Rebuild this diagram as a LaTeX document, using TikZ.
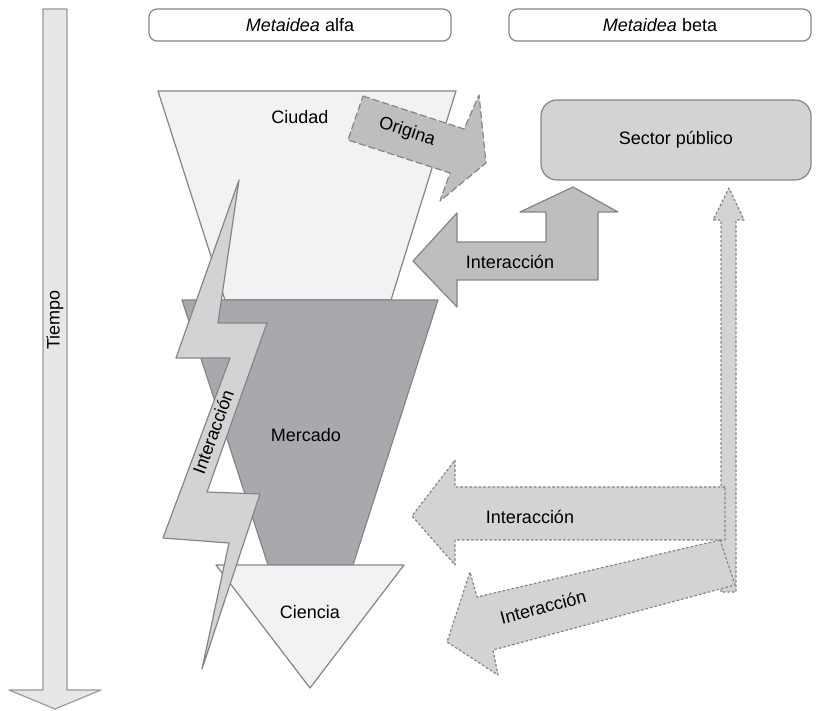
\documentclass[tikz,border=0pt]{standalone}
\usepackage{fontspec}
\setmainfont{Liberation Sans}
\definecolor{tiempo}{HTML}{E6E7E8}
\definecolor{ciudad}{HTML}{F1F2F3}
\definecolor{mercado}{HTML}{A7A9AC}
\definecolor{claro}{HTML}{D1D3D4}
\definecolor{medio}{HTML}{BCBEC0}
\definecolor{borde}{HTML}{858585}
\begin{document}
\begin{tikzpicture}[x=.5pt, y=-.5pt, font=\fontsize{9}{11}\selectfont, line join=round,
	edge/.style={draw=borde, line width=.6pt},
	dotedge/.style={draw=borde, line width=.6pt, dash pattern=on 1.3pt off 1pt},
	dashedge/.style={draw=borde, line width=.6pt, dash pattern=on 3.5pt off 1.5pt},
	topbox/.style={edge, fill=white, rounded corners=4pt, minimum width=151pt, minimum height=16pt, inner sep=0pt},
	lbl/.style={inner sep=0pt}]
	\useasboundingbox (0,0) rectangle (837,711);
	% eje del tiempo
	\draw[edge, draw=black!40, fill=tiempo] (43,9)--(67,9)--(67,690)--(101,690)--(55,709)--(9,690)--(43,690)--cycle;
	\node[lbl, rotate=90] (tiempo) at (55,320) {Tiempo};
	% cabeceras
	\node[topbox] (alfa) at (300,25) {\textit{Metaidea} alfa};
	\node[topbox] (beta) at (660,25) {\textit{Metaidea} beta};
	% embudo
	\draw[edge, fill=ciudad] (158,91)--(456,91)--(391,300)--(225,300)--cycle;
	\node[lbl] (ciudad) at (300,117) {Ciudad};
	\draw[dashedge, fill=medio] (363,96)--(464,129)--(479,95)--(486,163)--(440,201)--(450,173)--(348,140)--cycle;
	\node[lbl, rotate=-18] (origina) at (407,132) {Origina};
	\draw[edge, fill=mercado] (182,300)--(438,300)--(353,565)--(268,565)--cycle;
	\node[lbl] (mercado) at (306,435) {Mercado};
	\draw[edge, fill=ciudad] (216,565)--(404,565)--(310,688)--cycle;
	\node[lbl] (ciencia) at (310,612) {Ciencia};
	% rayo
	\draw[edge, fill=claro] (239,180)--(218,323)--(267,323)--(207,492)--(260,494)--(202,669)
		--(229,543)--(163,538)--(230,358)--(176,358)--cycle;
	\node[lbl, rotate=70] (rayo) at (213,432) {Interacción};
	% sector publico
	\node[edge, fill=claro, rounded corners=8pt, minimum width=135pt, minimum height=40pt] (sector) at (676,140) {Sector público};
	\draw[edge, fill=medio] (413,261)--(457,213)--(457,242)--(546,242)--(546,212)--(520,212)--(573,187)
		--(618,212)--(598,212)--(598,280)--(457,280)--(457,307)--cycle;
	\node[lbl] (inter1) at (510,262) {Interacción};
	% flechas punteadas
	\draw[dotedge, fill=claro] (721,592)--(721,220)--(713,220)--(729,188)--(744,220)--(736,220)--(736,592)--cycle;
	\draw[dotedge, fill=claro] (725,487)--(455,487)--(455,460)--(412,516)--(455,565)--(455,540)--(725,540)--cycle;
	\node[lbl] (inter2) at (530,517) {Interacción};
	\draw[dotedge, fill=claro] (720,540)--(477,597)--(470,572)--(447,642)--(498,675)--(493,650)--(735,585)--cycle;
	\node[lbl, rotate=15] (inter3) at (543,607) {Interacción};
\end{tikzpicture}
\end{document}
